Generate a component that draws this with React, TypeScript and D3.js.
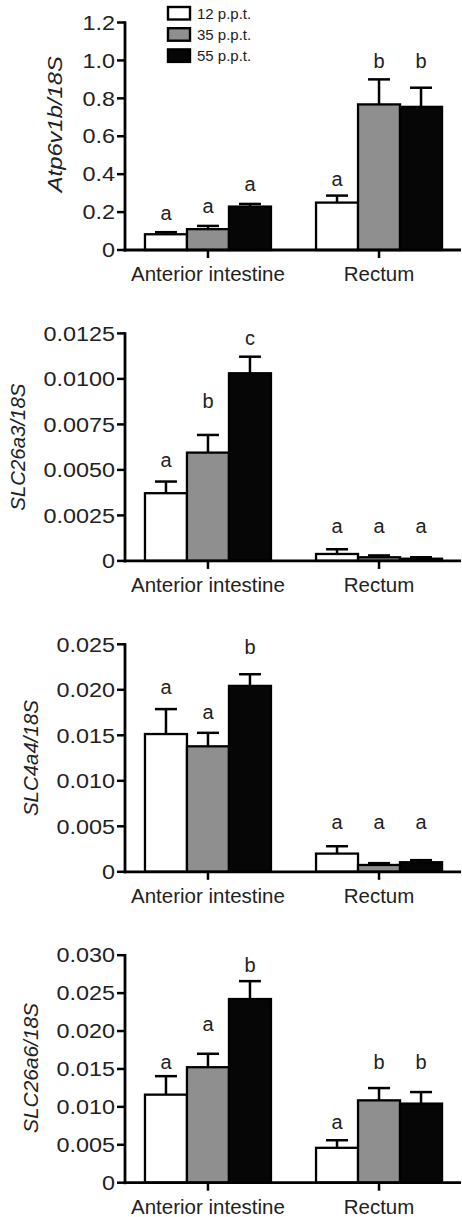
import React from "react";
import * as d3 from "d3";

const groups = ["Anterior intestine", "Rectum"];
const seriesNames = ["12 p.p.t.", "35 p.p.t.", "55 p.p.t."];
const seriesFill = ["#ffffff", "#8f8f8f", "#060606"];

// Panel 1: Atp6v1b/18S  (values [group][series])
const atpMean = [[0.083, 0.110, 0.229], [0.250, 0.768, 0.755]];
const atpErr = [[0.094, 0.127, 0.243], [0.287, 0.900, 0.856]];
const atpLetters = [["a", "a", "a"], ["a", "b", "b"]];
const atpLetterY = [[0.159, 0.196, 0.309], [0.335, 0.962, 0.962]];
const atpTicks = [0, 0.2, 0.4, 0.6, 0.8, 1.0, 1.2];
const atpTickLabels = ["0", "0.2", "0.4", "0.6", "0.8", "1.0", "1.2"];

// Panel 2: SLC26a3/18S
const a3Mean = [[0.00372, 0.00595, 0.01031], [0.00038, 0.00020, 0.00012]];
const a3Err = [[0.00436, 0.00692, 0.01122], [0.00064, 0.00030, 0.00020]];
const a3Letters = [["a", "b", "c"], ["a", "a", "a"]];
const a3LetterY = [[0.00518, 0.00838, 0.01186], [0.00155, 0.00155, 0.00155]];
const a3Ticks = [0, 0.0025, 0.005, 0.0075, 0.01, 0.0125];
const a3TickLabels = ["0", "0.0025", "0.0050", "0.0075", "0.0100", "0.0125"];

// Panel 3: SLC4a4/18S
const a4Mean = [[0.01514, 0.01379, 0.02043], [0.00200, 0.00075, 0.00105]];
const a4Err = [[0.01788, 0.01527, 0.02171], [0.00281, 0.00095, 0.00128]];
const a4Letters = [["a", "a", "b"], ["a", "a", "a"]];
const a4LetterY = [[0.01953, 0.01679, 0.02397], [0.00475, 0.00475, 0.00475]];
const a4Ticks = [0, 0.005, 0.01, 0.015, 0.02, 0.025];
const a4TickLabels = ["0", "0.005", "0.010", "0.015", "0.020", "0.025"];

// Panel 4: SLC26a6/18S
const a6Mean = [[0.01161, 0.01523, 0.02422], [0.00460, 0.01086, 0.01043]];
const a6Err = [[0.01405, 0.01700, 0.02658], [0.00560, 0.01248, 0.01195]];
const a6Letters = [["a", "a", "b"], ["a", "b", "b"]];
const a6LetterY = [[0.01503, 0.02006, 0.02785], [0.00714, 0.01503, 0.01503]];
const a6Ticks = [0, 0.005, 0.01, 0.015, 0.02, 0.025, 0.03];
const a6TickLabels = ["0", "0.005", "0.010", "0.015", "0.020", "0.025", "0.030"];

const panels = [
  { label: "Atp6v1b/18S", mean: atpMean, err: atpErr, letters: atpLetters, letterY: atpLetterY, ticks: atpTicks, tickLabels: atpTickLabels, labelX: 62, labelShift: -12, labelLen: 136 },
  { label: "SLC26a3/18S", mean: a3Mean, err: a3Err, letters: a3Letters, letterY: a3LetterY, ticks: a3Ticks, tickLabels: a3TickLabels, labelX: 25, labelShift: 0, labelLen: 127 },
  { label: "SLC4a4/18S", mean: a4Mean, err: a4Err, letters: a4Letters, letterY: a4LetterY, ticks: a4Ticks, tickLabels: a4TickLabels, labelX: 38, labelShift: 0, labelLen: 116 },
  { label: "SLC26a6/18S", mean: a6Mean, err: a6Err, letters: a6Letters, letterY: a6LetterY, ticks: a6Ticks, tickLabels: a6TickLabels, labelX: 38, labelShift: -1, labelLen: 130 },
];

const W = 462;
const H = 1217;
const axisX = 125;
const axisRight = 461;
const panelTop0 = 250;
const panelStep = 310.9;
const plotH = 227.5;
const barW = 42;
const FONT = "'Liberation Sans', Arial, Helvetica, sans-serif";

export default function App() {
  const xGroup = d3.scalePoint<string>().domain(groups).range([axisX, W]).padding(0.485);
  const xSeries = d3.scaleBand<string>().domain(seriesNames).range([-barW * 1.5, barW * 1.5]).padding(0);

  return (
    <svg width={W} height={H} style={{ position: "absolute", left: 0, top: 0, background: "#fff" }} fontFamily={FONT}>
      {panels.map((p, pi) => {
        const y0 = panelTop0 + pi * panelStep;
        const yMax = p.ticks[p.ticks.length - 1];
        const y = d3.scaleLinear().domain([0, yMax]).range([y0, y0 - plotH]);
        return (
          <g key={pi}>
            {/* bars */}
            {groups.map((g, gi) =>
              seriesNames.map((s, si) => {
                const cx = (xGroup(g) as number) + (xSeries(s) as number) + xSeries.bandwidth() / 2;
                const top = y(p.mean[gi][si]);
                const et = y(p.err[gi][si]);
                return (
                  <g key={g + s}>
                    <rect x={cx - barW / 2} y={top} width={barW} height={Math.max(0, y0 - top)}
                      fill={seriesFill[si]} stroke="#000" strokeWidth={2.3} />
                    <line x1={cx} x2={cx} y1={top} y2={et} stroke="#000" strokeWidth={2.5} />
                    <line x1={cx - 11} x2={cx + 11} y1={et} y2={et} stroke="#000" strokeWidth={2.5} />
                    <text x={cx} y={y(p.letterY[gi][si])} textAnchor="middle" fontSize={20} fill="#222">
                      {p.letters[gi][si]}
                    </text>
                  </g>
                );
              })
            )}
            {/* y axis */}
            <line x1={axisX} x2={axisX} y1={y0 + 1.5} y2={y(yMax) - 1.2} stroke="#000" strokeWidth={2.8} />
            {p.ticks.map((t, ti) => (
              <g key={ti}>
                <line x1={axisX - 8} x2={axisX} y1={y(t)} y2={y(t)} stroke="#000" strokeWidth={2.5} />
                <text transform={`translate(${axisX - 10},${y(t)}) scale(1.2,1)`} dy="0.37em"
                  textAnchor="end" fontSize={19.5} fill="#222">
                  {p.tickLabels[ti]}
                </text>
              </g>
            ))}
            {/* x axis */}
            <line x1={axisX - 1.4} x2={axisRight} y1={y0} y2={y0} stroke="#000" strokeWidth={2.8} />
            {groups.map((g) => (
              <g key={g}>
                <line x1={xGroup(g)} x2={xGroup(g)} y1={y0} y2={y0 + 8} stroke="#000" strokeWidth={2.5} />
                <text x={xGroup(g)} y={y0 + 31} textAnchor="middle" fontSize={20.5} fill="#222">{g}</text>
              </g>
            ))}
            {/* y label */}
            <text transform={`translate(${p.labelX},${y0 - plotH / 2 + p.labelShift}) rotate(-90)`}
              textAnchor="middle" fontSize={20.5} fontStyle="italic" fill="#222"
              textLength={p.labelLen} lengthAdjust="spacingAndGlyphs">
              {p.label}
            </text>
          </g>
        );
      })}
      {/* legend */}
      {seriesNames.map((s, si) => (
        <g key={s} transform={`translate(168, ${7 + si * 21.2})`}>
          <rect x={0} y={0} width={22} height={12.5} fill={seriesFill[si]} stroke="#000" strokeWidth={2.4} />
          <text x={29} y={6.5} dy="0.36em" fontSize={15} fill="#222">{s}</text>
        </g>
      ))}
    </svg>
  );
}
